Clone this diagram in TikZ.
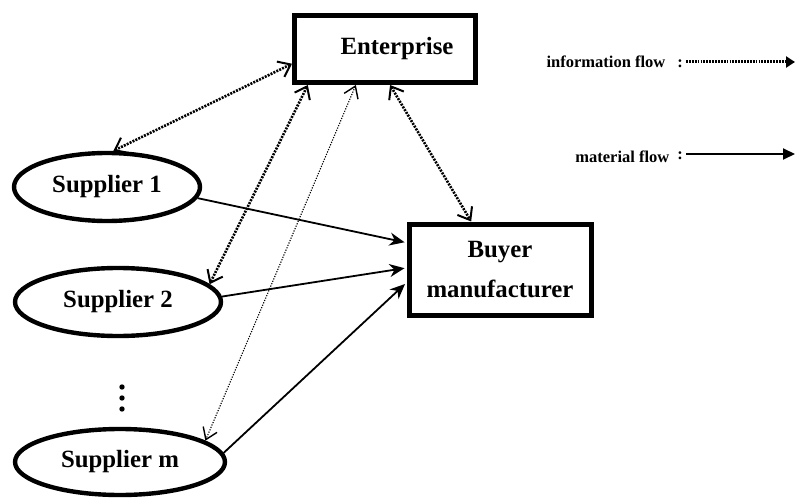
\documentclass[tikz,border=0pt]{standalone}
\usepackage{fontspec}
\setmainfont{Liberation Serif}
\usetikzlibrary{positioning,arrows.meta,shapes.geometric}

\begin{document}
\begin{tikzpicture}[x=1pt, y=-1pt,
  font=\bfseries\fontsize{24.8}{40}\selectfont,
  box/.style={draw, line width=5pt, rectangle, minimum width=181pt, minimum height=67pt, align=center},
  sup/.style={draw, line width=4.4pt, ellipse, minimum height=68pt, inner sep=0pt},
  info/.style={line width=2.6pt, dash pattern=on 2pt off 1.2pt,
    {Straight Barb[length=11pt, width=17pt, line width=2pt]}-{Straight Barb[length=11pt, width=17pt, line width=2pt]}},
  infothin/.style={line width=1.1pt, dash pattern=on 1.2pt off 1.4pt,
    {Straight Barb[length=11pt, width=15pt, line width=1.4pt]}-{Straight Barb[length=11pt, width=15pt, line width=1.4pt]}},
  mat/.style={line width=1.8pt, -{Stealth[length=15pt, width=13pt]}, shorten >=2pt},
  leg/.style={font=\bfseries\fontsize{16.5}{20}\selectfont, inner sep=3pt}]
\useasboundingbox (0,0) rectangle (795,500);

% nodes
\node[box] (ent) at (385,49) {\hspace*{24pt}Enterprise};
\node[box, minimum height=91pt, minimum width=182pt] (buy) at (500,269.5) {Buyer\\manufacturer};
\node[sup, minimum width=186pt] (sup1) at (107,187) {Supplier 1};
\node[sup, minimum width=206pt] (sup2) at (118,302) {Supplier 2};
\node[sup, minimum width=210pt, minimum height=66pt] (supm) at (120,462) {Supplier m};
\foreach \y in {387,398,409}
  \fill (122,\y) circle (2.7pt);

% legend
\node[leg, anchor=east] (infolab) at (686,62) {information flow\hspace{12pt}:};
\node[leg, anchor=east] (matlab) at (686,157) {material flow\hspace{8pt}\raisebox{3pt}{:}};
\coordinate (infoend) at (795,62);
\coordinate (matend) at (795,154);
\draw[line width=3pt, dash pattern=on 1.8pt off 1.1pt, -{Triangle[length=9pt, width=11pt]}]
  (infolab.east) -- (infoend);
\draw[line width=2pt, -{Triangle[length=12pt, width=11pt]}] (matlab.east |- matend) -- (matend);

% information flow
\draw[info] (ent.189) -- (sup1.80);
\draw[info] (ent.205) -- (sup2.11);
\draw[infothin] (ent.231) -- (supm.14);
\draw[info] (ent.278) -- (buy.121);

% material flow
\draw[mat] (sup1.353) -- (buy.164);
\draw[mat] (sup2.3) -- (buy.179);
\draw[mat] (supm.5) -- (buy.188);
\end{tikzpicture}
\end{document}
